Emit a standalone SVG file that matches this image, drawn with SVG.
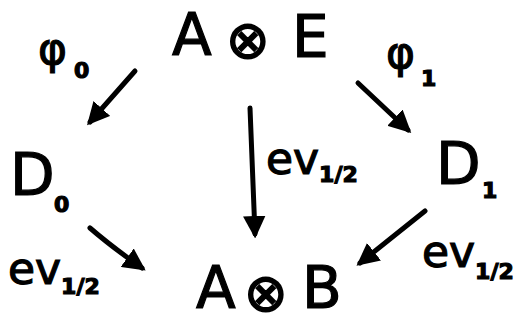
<svg xmlns="http://www.w3.org/2000/svg" width="516" height="322" viewBox="0 0 516 322">
<style>
.t{font-family:"DejaVu Sans",sans-serif;fill:#000;stroke:#000;stroke-width:1.2}
.big{font-size:58px}
.op{font-size:52px;stroke-width:1.6}
.lab{font-size:44px}
.sub{font-size:22px;font-weight:bold}
.c{fill:none;stroke:#000;stroke-width:5;stroke-linecap:round;stroke-linejoin:round}
</style>
<defs>
<marker id="ah" viewBox="0 0 10 10" refX="8" refY="5" markerWidth="4.5" markerHeight="4.5" markerUnits="strokeWidth" orient="auto">
<path d="M0,0 L10,5 L0,10 Z" fill="#000"/>
</marker>
</defs>
<rect width="516" height="322" fill="#fff"/>
<g id="AE">
<text class="t big" x="172" y="55">A</text>
<text class="t op" x="226" y="58">⊗</text>
<text class="t big" x="292" y="57">E</text>
</g>
<g id="D0">
<text class="t big" x="10" y="195">D</text>
<text class="t sub" x="54" y="212" font-size="26">0</text>
</g>
<g id="D1">
<text class="t big" x="436" y="184">D</text>
<text class="t sub" x="482" y="198" font-size="26">1</text>
</g>
<g id="AB">
<text class="t big" x="196" y="308" font-size="54">A</text>
<text class="t op" x="244" y="311">⊗</text>
<text class="t big" x="302" y="308" font-size="54">B</text>
</g>
<g id="connectors">
<path class="c" d="M135,71 L90,122" marker-end="url(#ah)"/>
<path class="c" d="M358,83 L408,130" marker-end="url(#ah)"/>
<path class="c" d="M250,108 L255,234" marker-end="url(#ah)"/>
<path class="c" d="M90,228 Q112,247 142,268" marker-end="url(#ah)"/>
<path class="c" d="M425,211 L360,263" marker-end="url(#ah)"/>
<text class="t lab" x="38" y="64">φ</text>
<text class="t sub" x="74" y="78" font-size="24">0</text>
<text class="t lab" x="386" y="68">φ</text>
<text class="t sub" x="421" y="86" font-size="24">1</text>
<text class="t lab" x="266" y="174">ev<tspan class="sub" dy="8">1/2</tspan></text>
<text class="t lab" x="8" y="284">ev<tspan class="sub" dy="10">1/2</tspan></text>
<text class="t lab" x="422" y="267">ev<tspan class="sub" dy="12">1/2</tspan></text>
</g>
</svg>
